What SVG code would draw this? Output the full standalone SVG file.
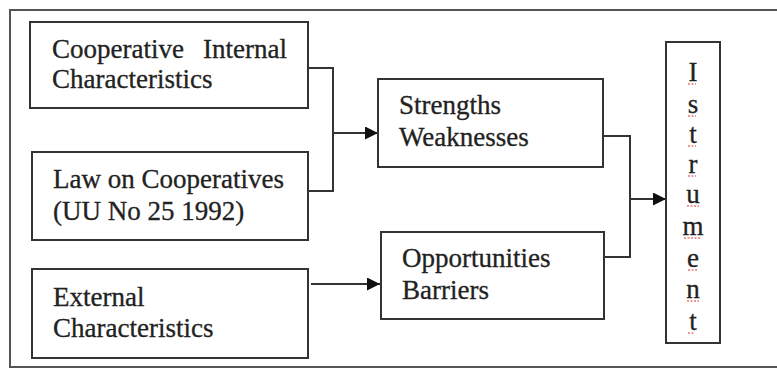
<svg xmlns="http://www.w3.org/2000/svg" width="777" height="369" viewBox="0 0 777 369">
<style>
.box{fill:#fff;stroke:#333;stroke-width:2}
.frame{fill:none;stroke:#555;stroke-width:2}
.t{font-family:"Liberation Serif","Times New Roman",serif;font-size:27px;fill:#222;stroke:#222;stroke-width:0.3}
.l{font-family:"Liberation Serif","Times New Roman",serif;font-size:27px;fill:#222;stroke:#222;stroke-width:0.3;text-anchor:middle}
.c{fill:none;stroke:#333;stroke-width:2}
.sq{fill:none;stroke:#d33;stroke-width:1;stroke-dasharray:2 1.5}
</style>
<defs>
<marker id="ah" markerWidth="13" markerHeight="13" refX="13" refY="6.5" orient="auto" markerUnits="userSpaceOnUse">
<path d="M0,0 L13,6.5 L0,13 Z" fill="#111"/>
</marker>
</defs>
<rect class="frame" x="10" y="10" width="780" height="357"/>
<g id="connectors">
<polyline class="c" points="308,68 333,68 333,191 308,191"/>
<line class="c" x1="333" y1="133" x2="378" y2="133" marker-end="url(#ah)"/>
<line class="c" x1="311" y1="284" x2="380" y2="284" marker-end="url(#ah)"/>
<polyline class="c" points="603,136 630,136 630,257 604,257"/>
<line class="c" x1="630" y1="199" x2="666" y2="199" marker-end="url(#ah)"/>
</g>
<g id="internal">
<rect class="box" x="30" y="22" width="278" height="86"/>
<text class="t" x="52" y="58">Cooperative</text>
<text class="t" x="287" y="58" text-anchor="end">Internal</text>
<text class="t" x="52" y="88">Characteristics</text>
</g>
<g id="law">
<rect class="box" x="32" y="152" width="276" height="88"/>
<text class="t" x="53" y="188">Law on Cooperatives</text>
<text class="t" x="53" y="220">(UU No 25 1992)</text>
</g>
<g id="external">
<rect class="box" x="32" y="269" width="276" height="89"/>
<text class="t" x="53" y="306">External</text>
<text class="t" x="53" y="337">Characteristics</text>
</g>
<g id="strengths">
<rect class="box" x="378" y="79" width="225" height="88"/>
<text class="t" x="399" y="114">Strengths</text>
<text class="t" x="399" y="146">Weaknesses</text>
</g>
<g id="opportunities">
<rect class="box" x="381" y="232" width="223" height="87"/>
<text class="t" x="402" y="267">Opportunities</text>
<text class="t" x="402" y="299">Barriers</text>
</g>
<g id="instrument">
<rect class="box" x="666" y="42" width="54" height="301"/>
<text class="l" x="693" y="81">I</text>
<text class="l" x="693" y="113">s</text>
<text class="l" x="693" y="143">t</text>
<text class="l" x="693" y="173">r</text>
<text class="l" x="693" y="203">u</text>
<text class="l" x="693" y="235">m</text>
<text class="l" x="693" y="267">e</text>
<text class="l" x="693" y="298">n</text>
<text class="l" x="693" y="330">t</text>
<path class="sq" d="M688,84h8M688,116h8M688,146h8M688,176h8M687,206h12M684,238h17M688,270h9M687,301h12M688,333h7"/>
</g>
</svg>
